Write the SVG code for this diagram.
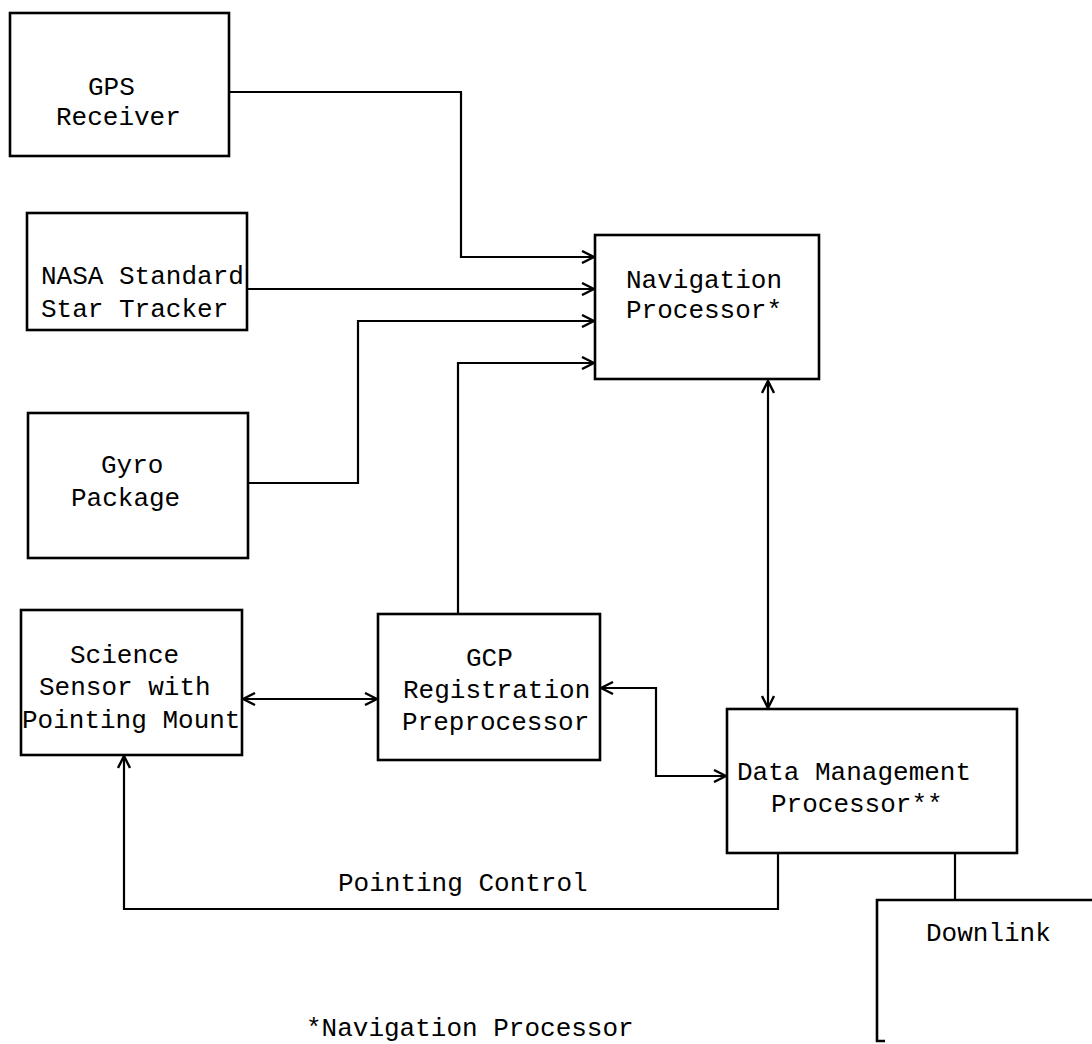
<svg xmlns="http://www.w3.org/2000/svg" width="1092" height="1044" viewBox="0 0 1092 1044">
<style>
.box{fill:none;stroke:#000;stroke-width:2.6}
.t{font-family:"Liberation Mono","DejaVu Sans Mono",monospace;font-size:26px;fill:#000}
.c{fill:none;stroke:#000;stroke-width:2.2}
</style>
<defs>
<marker id="ah" viewBox="0 0 14 14" refX="13" refY="7" markerWidth="14" markerHeight="14" markerUnits="userSpaceOnUse" orient="auto-start-reverse">
<path d="M1,1 L13,7 L1,13" fill="none" stroke="#000" stroke-width="2.4"/>
</marker>
</defs>
<rect width="1092" height="1044" fill="#fff"/>
<g id="gps">
<rect class="box" x="10" y="13" width="219" height="143"/>
<text class="t" x="88" y="95">GPS</text>
<text class="t" x="56" y="125">Receiver</text>
</g>
<g id="star-tracker">
<rect class="box" x="27" y="213" width="220" height="117"/>
<text class="t" x="41" y="284">NASA Standard</text>
<text class="t" x="41" y="317">Star Tracker</text>
</g>
<g id="gyro">
<rect class="box" x="28" y="413" width="220" height="145"/>
<text class="t" x="101" y="473">Gyro</text>
<text class="t" x="71" y="506">Package</text>
</g>
<g id="science">
<rect class="box" x="21" y="610" width="221" height="145"/>
<text class="t" x="70" y="663">Science</text>
<text class="t" x="39" y="695">Sensor with</text>
<text class="t" x="22" y="728">Pointing Mount</text>
</g>
<g id="gcp">
<rect class="box" x="378" y="614" width="222" height="146"/>
<text class="t" x="466" y="666">GCP</text>
<text class="t" x="403" y="698">Registration</text>
<text class="t" x="402" y="730">Preprocessor</text>
</g>
<g id="nav">
<rect class="box" x="595" y="235" width="224" height="144"/>
<text class="t" x="626" y="288">Navigation</text>
<text class="t" x="626" y="318">Processor*</text>
</g>
<g id="dm">
<rect class="box" x="727" y="709" width="290" height="144"/>
<text class="t" x="737" y="780">Data Management</text>
<text class="t" x="771" y="812">Processor**</text>
</g>
<g id="downlink">
<path class="box" d="M1100,900 H877 V1041 H885"/>
<text class="t" x="926" y="941">Downlink</text>
</g>
<g id="connectors">
<path class="c" d="M229,92 H461 V257 H594" marker-end="url(#ah)"/>
<path class="c" d="M247,289 H594" marker-end="url(#ah)"/>
<path class="c" d="M248,483 H358 V321 H594" marker-end="url(#ah)"/>
<path class="c" d="M458,614 V363 H594" marker-end="url(#ah)"/>
<path class="c" d="M768,381 V708" marker-start="url(#ah)" marker-end="url(#ah)"/>
<path class="c" d="M243,699 H377" marker-start="url(#ah)" marker-end="url(#ah)"/>
<path class="c" d="M601,688 H656 V776 H726" marker-start="url(#ah)" marker-end="url(#ah)"/>
<path class="c" d="M778,853 V909 H124 V756" marker-end="url(#ah)"/>
<path class="c" d="M955,853 V900"/>
</g>
<text class="t" x="338" y="891">Pointing Control</text>
<text class="t" x="306" y="1036">*Navigation Processor</text>
</svg>
